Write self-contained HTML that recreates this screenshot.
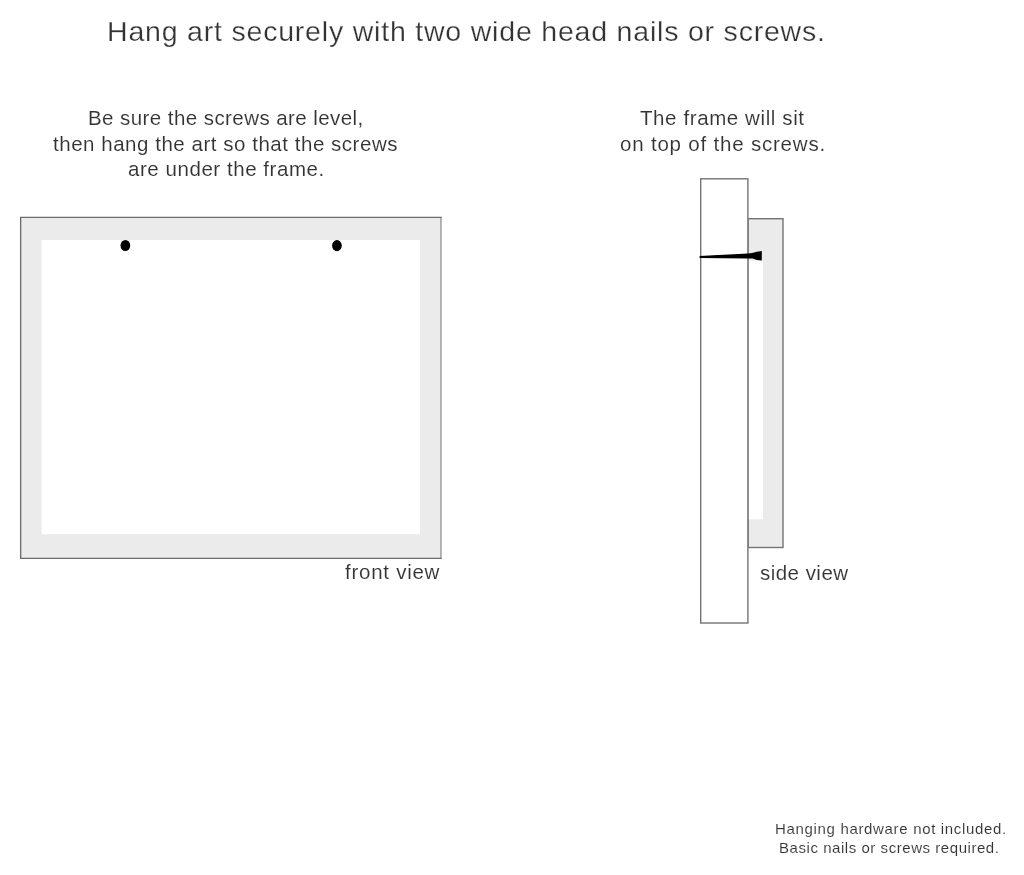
<!DOCTYPE html>
<html>
<head>
<meta charset="utf-8">
<title>Hanging instructions</title>
<style>
  html, body { margin: 0; padding: 0; background: #ffffff; }
  body { width: 1024px; height: 875px; position: relative; overflow: hidden;
         font-family: "Liberation Sans", sans-serif; color: #333333; }
  svg.art { position: absolute; left: 0; top: 0; }
  .t { position: absolute; white-space: nowrap; line-height: 1; margin: 0; will-change: transform; -webkit-font-smoothing: antialiased; -webkit-text-stroke: 0.1px #ffffff; }
  .title { -webkit-text-stroke-width: 0.25px; }
  .note { -webkit-text-stroke-width: 0.1px; }
  #title { left:106.8px; top:16.8px; font-size:28.5px; letter-spacing:0.8px; }
  #l1 { left:87.6px; top:108.4px; font-size:20.5px; letter-spacing:0.43px; }
  #l2 { left:53.1px; top:133.85px; font-size:20.5px; letter-spacing:0.53px; }
  #l3 { left:128.3px; top:159.2px; font-size:20.5px; letter-spacing:0.55px; }
  #r1 { left:639.7px; top:108.4px; font-size:20.5px; letter-spacing:0.6px; }
  #r2 { left:619.5px; top:134.25px; font-size:20.5px; letter-spacing:0.8px; }
  #fv { left:345.1px; top:562.3px; font-size:20.5px; letter-spacing:0.74px; }
  #sv { left:759.7px; top:562.65px; font-size:20.5px; letter-spacing:0.47px; }
  #n1 { left:774.7px; top:821.0px; font-size:15.0px; letter-spacing:0.67px; }
  #n2 { left:779.4px; top:839.8px; font-size:15.0px; letter-spacing:0.55px; }
</style>
</head>
<body>

<svg class="art" width="1024" height="875" viewBox="0 0 1024 875">
  <!-- front view frame -->
  <rect x="20.65" y="217.4" width="420.35" height="341" fill="#ebebeb"/>
  <path d="M441 217.4 L20.65 217.4 L20.65 558.4 L441 558.4" fill="none" stroke="#6c6c6c" stroke-width="1.35" stroke-linecap="square"/>
  <path d="M441 217.4 L441 558.4" fill="none" stroke="#787878" stroke-width="1.05"/>
  <rect x="41.7" y="240.05" width="378.3" height="294.15" fill="#ffffff"/>
  <ellipse cx="125.35" cy="245.5" rx="4.85" ry="5.55" fill="#000000"/>
  <ellipse cx="336.95" cy="245.6" rx="4.85" ry="5.55" fill="#000000"/>

  <!-- side view: frame profile -->
  <rect x="748" y="218.7" width="35" height="328.8" fill="#ebebeb" stroke="#747474" stroke-width="1.4"/>
  <rect x="748.6" y="260.5" width="14.4" height="258.8" fill="#ffffff"/>
  <!-- side view: wall -->
  <rect x="700.7" y="178.8" width="47.2" height="444.2" fill="#ffffff" stroke="#747474" stroke-width="1.4"/>
  <!-- nail -->
  <path d="M699.6 255.9 L748 253.4 L752 253.1 L756.8 251.8 L761.8 251.1 L761.8 260.6 L756.8 260 L752.5 258.6 L748 258.4 L699.6 258.1 Z" fill="#000000"/>
</svg>

<div class="t title" id="title">Hang art securely with two wide head nails or screws.</div>

<div class="t p" id="l1">Be sure the screws are level,</div>
<div class="t p" id="l2">then hang the art so that the screws</div>
<div class="t p" id="l3">are under the frame.</div>

<div class="t p" id="r1">The frame will sit</div>
<div class="t p" id="r2">on top of the screws.</div>

<div class="t lbl" id="fv">front view</div>
<div class="t lbl" id="sv">side view</div>

<div class="t note" id="n1">Hanging hardware not included.</div>
<div class="t note" id="n2">Basic nails or screws required.</div>

</body>
</html>
